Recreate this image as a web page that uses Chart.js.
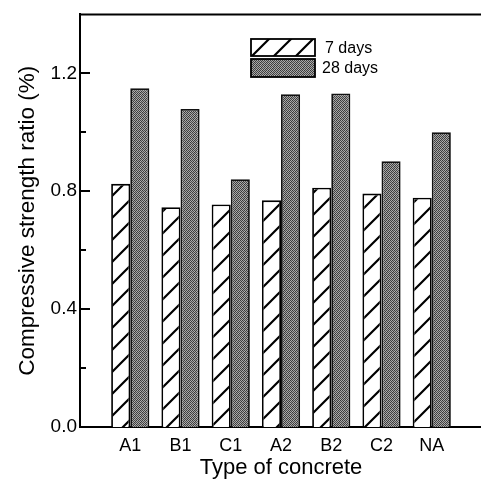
<!DOCTYPE html>
<html>
<head>
<meta charset="utf-8">
<script src="https://cdn.jsdelivr.net/npm/chart.js@4.4.1/dist/chart.umd.min.js"></script>
<style>
    html, body { margin: 0; padding: 0; background: #fff; overflow: hidden; }
    #wrap { width: 490px; height: 483px; }
</style>
</head>
<body>
<div id="wrap"><canvas id="strengthChart" width="490" height="483"></canvas></div>
<script>
// data
const concreteTypes = ['A1', 'B1', 'C1', 'A2', 'B2', 'C2', 'NA'];
const ratio7Days = [0.825, 0.746, 0.755, 0.769, 0.812, 0.792, 0.778];
const ratio28Days = [1.149, 1.079, 0.841, 1.129, 1.132, 0.902, 1.000];
const yTickLabels = ['0.0', '0.4', '0.8', '1.2'];

//hatch fill for the 7 day bars
function makeHatch() {
    const c = document.createElement('canvas');
    const s = 22;
    c.width = s; c.height = s;
    const g = c.getContext('2d');
    g.fillStyle = '#fff';
    g.fillRect(0, 0, s, s);
    g.strokeStyle = '#000';
    g.lineWidth = 2.2;
    g.beginPath();
    g.moveTo(-2, s + 2); g.lineTo(s + 2, -2);
    g.moveTo(-2, 2); g.lineTo(2, -2);
    g.moveTo(s - 2, s + 2); g.lineTo(s + 2, s - 2);
    g.stroke();
    return g.createPattern(c, 'repeat');
}

//halftone grey for the 28 day bars
function makeGrey() {
    const c = document.createElement('canvas');
    c.width = 6; c.height = 6;
    const g = c.getContext('2d');
    const shades = [
        ['#3a3a3a', '#a8a8a8', '#444444', '#9c9c9c', '#3e3e3e', '#b0b0b0'],
        ['#a0a0a0', '#4a4a4a', '#b4b4b4', '#383838', '#a4a4a4', '#505050'],
        ['#424242', '#acacac', '#363636', '#989898', '#484848', '#a6a6a6'],
        ['#b0b0b0', '#3c3c3c', '#a2a2a2', '#464646', '#b6b6b6', '#3a3a3a'],
        ['#484848', '#9a9a9a', '#404040', '#aeaeae', '#343434', '#a0a0a0'],
        ['#a6a6a6', '#363636', '#b2b2b2', '#4c4c4c', '#9e9e9e', '#444444']
    ];
    for (let y = 0; y < 6; y++) {
        for (let x = 0; x < 6; x++) {
            g.fillStyle = shades[y][x];
            g.fillRect(x, y, 1, 1);
        }
    }
    return g.createPattern(c, 'repeat');
}

// inward tick marks on the y axis + top frame line
const frameTicks = {
    id: 'frameTicks',
    afterDraw(chart) {
        const ctx = chart.ctx;
        const area = chart.chartArea;
        const yScale = chart.scales.y;
        ctx.save();
        ctx.strokeStyle = '#000';
        ctx.lineWidth = 2;
        ctx.beginPath();
        ctx.moveTo(area.left, area.top);
        ctx.lineTo(area.right, area.top);
        ctx.stroke();
        yScale.ticks.forEach(t => {
            if (t.value <= 0.01 || t.value >= yScale.max - 0.01) return;
            const py = Math.round(yScale.getPixelForValue(t.value));
            const len = Math.round(t.value * 10) % 4 === 0 ? 10 : 6;
            ctx.beginPath();
            ctx.moveTo(area.left, py);
            ctx.lineTo(area.left + len, py);
            ctx.stroke();
        });
        ctx.restore();
    }
};

// stacked legend boxes inside the plot
const boxLegend = {
    id: 'boxLegend',
    afterDraw(chart) {
        const ctx = chart.ctx;
        const rows = [{ y: 39, h: 17 }, { y: 59, h: 18 }];
        ctx.save();
        chart.data.datasets.forEach((ds, i) => {
            const r = rows[i];
            ctx.fillStyle = ds.backgroundColor;
            ctx.fillRect(251, r.y, 64, r.h);
            ctx.strokeStyle = '#000';
            ctx.lineWidth = 1.8;
            ctx.strokeRect(251, r.y, 64, r.h);
            ctx.fillStyle = '#000';
            ctx.font = '16px Arial, "Liberation Sans", sans-serif';
            ctx.textBaseline = 'middle';
            ctx.textAlign = 'left';
            ctx.fillText(ds.label, i === 0 ? 325 : 322, r.y + r.h / 2 + 1);
        });
        ctx.restore();
    }
};

function renderStrengthChart() {
    const ctx = document.getElementById('strengthChart').getContext('2d');
    Chart.defaults.font.family = 'Arial, "Liberation Sans", sans-serif';
    Chart.defaults.color = '#000';

    const pad = arr => [null, ...arr, null];

    new Chart(ctx, {
        type: 'bar',
        data: {
            labels: ['', ...concreteTypes, ''],
            datasets: [{
                label: '7 days',
                data: pad(ratio7Days),
                backgroundColor: makeHatch(),
                borderColor: '#000',
                borderWidth: 1.8
            }, {
                label: '28 days',
                data: pad(ratio28Days),
                backgroundColor: makeGrey(),
                borderColor: '#111',
                borderWidth: 1.8
            }]
        },
        options: {
            responsive: false,
            animation: false,
            layout: { padding: { top: 14, right: 7, left: 0, bottom: 0 } },
            categoryPercentage: 0.76,
            barPercentage: 1.0,
            plugins: {
                legend: { display: false },
                tooltip: { enabled: false }
            },
            scales: {
                x: {
                    offset: false,
                    grid: { display: false, drawTicks: false },
                    border: { display: true, color: '#000', width: 2 },
                    ticks: { font: { size: 18 }, padding: 8, autoSkip: false, maxRotation: 0 },
                    title: { display: true, text: 'Type of concrete', font: { size: 22 }, padding: { top: 0, bottom: 2 } },
                    afterFit(scale) { scale.height = 56; }
                },
                y: {
                    min: 0,
                    max: 1.4,
                    grid: { display: false, drawTicks: false },
                    border: { display: true, color: '#000', width: 2 },
                    ticks: {
                        stepSize: 0.2,
                        padding: 3,
                        font: { size: 19 },
                        autoSkip: false,
                        callback: v => {
                            const lbl = v.toFixed(1);
                            return yTickLabels.includes(lbl) ? lbl : '';
                        }
                    },
                    title: { display: true, text: 'Compressive strength ratio (%)', font: { size: 22.5 }, padding: { top: 14, bottom: 0 } },
                    afterFit(scale) { scale.width = 80; }
                }
            }
        },
        plugins: [frameTicks, boxLegend]
    });
}

document.addEventListener('DOMContentLoaded', () => {
    renderStrengthChart();
});
</script>
</body>
</html>
